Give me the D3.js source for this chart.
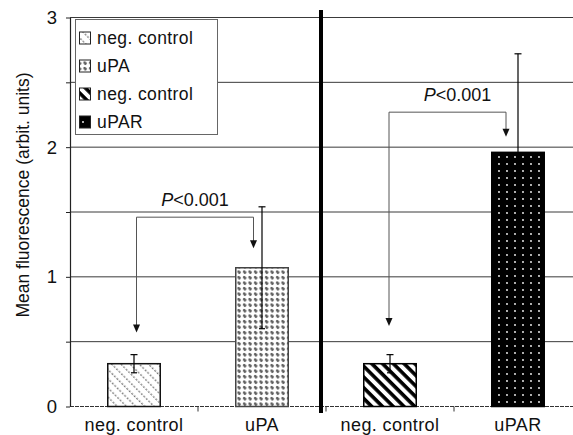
<!DOCTYPE html>
<html>
<head>
<meta charset="utf-8">
<script src="https://cdn.jsdelivr.net/npm/d3@7"></script>
<style>
  body { margin: 0; background: #fff; }
  svg { display: block; font-family: "Liberation Sans", Arial, sans-serif; }
</style>
</head>
<body>
<script>
// data
const categories = ["neg. control", "uPA", "neg. control", "uPAR"];
const means = [0.33, 1.07, 0.33, 1.96];
const errors = [0.07, 0.47, 0.07, 0.76];
const legendLabels = ["neg. control", "uPA", "neg. control", "uPAR"];
const yTicks = [0, 0.5, 1, 1.5, 2, 2.5, 3];
const pLabel = "<0.001";
// significance brackets: bar index pairs, bracket level, arrow tip levels
const bracketPairs = [[0, 1], [2, 3]];
const bracketLevels = [1.46, 2.27];
const bracketTips = [[0.57, 1.22], [0.62, 2.08]];

const W = 573, H = 435;
const svg = d3.select("body").append("svg").attr("width", W).attr("height", H);

const x = d3.scaleBand()
    .domain(d3.range(categories.length))
    .range([70, 582])
    .paddingInner(0.59)
    .paddingOuter(0.295);
const y = d3.scaleLinear().domain([0, 3]).range([406.5, 17.5]);
const bw = x.bandwidth();
const step = x.step();

// fill patterns
const defs = svg.append("defs");

const p0 = defs.append("pattern").attr("id", "pat0")
    .attr("patternUnits", "userSpaceOnUse").attr("width", 7).attr("height", 6.5)
    .attr("patternTransform", "rotate(45)");
p0.append("rect").attr("width", 7).attr("height", 6.5).attr("fill", "#fff");
p0.append("line").attr("x1", 0).attr("x2", 7).attr("y1", 3).attr("y2", 3)
    .attr("stroke", "#777").attr("stroke-width", 1.4).attr("stroke-dasharray", "1.8,1.7");

const p1 = defs.append("pattern").attr("id", "pat1")
    .attr("patternUnits", "userSpaceOnUse").attr("width", 5.5).attr("height", 5.5);
p1.append("rect").attr("width", 5.5).attr("height", 5.5).attr("fill", "#fff");
p1.append("path").attr("d", "M0.8,2.7h3.6M2.6,0.9v3.6M1.3,1.3l2.6,2.6")
    .attr("stroke", "#555").attr("stroke-width", 1.1).attr("fill", "none");

const p2 = defs.append("pattern").attr("id", "pat2")
    .attr("patternUnits", "userSpaceOnUse").attr("width", 10).attr("height", 7.6)
    .attr("patternTransform", "rotate(45)");
p2.append("rect").attr("width", 10).attr("height", 7.6).attr("fill", "#fff");
p2.append("rect").attr("width", 10).attr("height", 3.6).attr("fill", "#000");

const p3 = defs.append("pattern").attr("id", "pat3")
    .attr("patternUnits", "userSpaceOnUse").attr("width", 8).attr("height", 7);
p3.append("rect").attr("width", 8).attr("height", 7).attr("fill", "#000");
p3.append("circle").attr("cx", 3).attr("cy", 3).attr("r", 0.9).attr("fill", "#fff");

const fills = ["url(#pat0)", "url(#pat1)", "url(#pat2)", "url(#pat3)"];
const borders = ["#111", "#444", "#000", "#000"];

// horizontal grid lines
svg.append("g").selectAll("line")
    .data(yTicks.filter(d => d > 0))
    .join("line")
    .attr("x1", 70).attr("x2", W)
    .attr("y1", d => y(d)).attr("y2", d => y(d))
    .attr("stroke", "#3a3a3a")
    .attr("stroke-width", 1);

// baseline
svg.append("line")
    .attr("x1", 70).attr("x2", W)
    .attr("y1", y(0)).attr("y2", y(0))
    .attr("stroke", "#333").attr("stroke-width", 1)
    .attr("stroke-dasharray", "4,1");

// bars
svg.append("g").selectAll("rect")
    .data(means)
    .join("rect")
    .attr("x", (d, i) => x(i))
    .attr("y", d => y(d))
    .attr("width", bw)
    .attr("height", d => y(0) - y(d))
    .attr("fill", (d, i) => fills[i])
    .attr("stroke", (d, i) => borders[i])
    .attr("stroke-width", 1.5);

// error bars
const eb = svg.append("g").attr("stroke", "#000").attr("stroke-width", 1.2);
means.forEach((m, i) => {
    const cx = x(i) + bw / 2;
    eb.append("line").attr("x1", cx).attr("x2", cx)
        .attr("y1", y(m - errors[i])).attr("y2", y(m + errors[i]));
    eb.append("line").attr("x1", cx - 3.5).attr("x2", cx + 3.5)
        .attr("y1", y(m + errors[i])).attr("y2", y(m + errors[i]));
    eb.append("line").attr("x1", cx - 3).attr("x2", cx + 3)
        .attr("y1", y(m - errors[i])).attr("y2", y(m - errors[i]));
});

// significance brackets
const legOffsets = [[2.5, -8.5], [-1, -12]];
const textShift = [0, 10];
const br = svg.append("g");
bracketPairs.forEach((pair, k) => {
    const xa = x(pair[0]) + bw / 2 + legOffsets[k][0];
    const xb = x(pair[1]) + bw / 2 + legOffsets[k][1];
    const yl = y(bracketLevels[k]);
    const ya = y(bracketTips[k][0]);
    const yb = y(bracketTips[k][1]);
    br.append("path")
        .attr("d", `M${xa},${ya - 7}V${yl}H${xb}V${yb - 7}`)
        .attr("fill", "none").attr("stroke", "#555").attr("stroke-width", 1);
    [[xa, ya], [xb, yb]].forEach(([tx, ty]) => {
        br.append("path")
            .attr("d", `M${tx - 3.5},${ty - 8}L${tx + 3.5},${ty - 8}L${tx},${ty}Z`)
            .attr("fill", "#111");
    });
    const t = br.append("text")
        .attr("x", (xa + xb) / 2 + textShift[k])
        .attr("y", yl - 11)
        .attr("text-anchor", "middle")
        .attr("font-size", 18)
        .attr("fill", "#111");
    t.append("tspan").attr("font-style", "italic").text("P");
    t.append("tspan").text(pLabel);
});

// y axis
const yAxis = svg.append("g")
    .attr("transform", "translate(70,0)")
    .call(d3.axisLeft(y)
        .tickValues(yTicks)
        .tickSize(4)
        .tickSizeOuter(0)
        .tickPadding(9)
        .tickFormat(d => Number.isInteger(d) ? d : ""));
yAxis.select(".domain").attr("stroke", "#222").attr("stroke-width", 1.2);
yAxis.selectAll(".tick line").attr("stroke", "#222");
yAxis.selectAll("text").attr("font-size", 18.5).attr("fill", "#111")
    .attr("font-family", "Liberation Sans, Arial, sans-serif");

// x axis labels and boundary ticks
const xAxis = svg.append("g")
    .attr("transform", `translate(0,${y(0)})`)
    .call(d3.axisBottom(x).tickSize(0).tickPadding(12).tickFormat(i => categories[i]));
xAxis.select(".domain").remove();
xAxis.selectAll("text").attr("font-size", 18).attr("fill", "#111")
    .attr("letter-spacing", 0.4)
    .attr("font-family", "Liberation Sans, Arial, sans-serif");

svg.append("g").selectAll("line")
    .data(d3.range(categories.length - 1))
    .join("line")
    .attr("x1", i => x(i) + bw + (step - bw) / 2)
    .attr("x2", i => x(i) + bw + (step - bw) / 2)
    .attr("y1", y(0)).attr("y2", y(0) + 5)
    .attr("stroke", "#333");

// thick divider between the two experiments
const divX = x(1) + bw + (step - bw) / 2 - 5;
svg.append("line")
    .attr("x1", divX).attr("x2", divX)
    .attr("y1", 10).attr("y2", 413)
    .attr("stroke", "#000").attr("stroke-width", 4);

// y axis title
svg.append("text")
    .attr("transform", "translate(29,195) rotate(-90)")
    .attr("text-anchor", "middle")
    .attr("font-size", 17.5)
    .attr("fill", "#111")
    .text("Mean fluorescence (arbit. units)");

// legend
const legend = svg.append("g");
legend.append("rect")
    .attr("x", 75.5).attr("y", 19.5)
    .attr("width", 142).attr("height", 115)
    .attr("fill", "#fff").attr("stroke", "#666").attr("stroke-width", 1);
legendLabels.forEach((lab, i) => {
    const base = 44 + i * 28;
    legend.append("rect")
        .attr("x", 79.5).attr("y", base - 12)
        .attr("width", 11).attr("height", 12)
        .attr("fill", fills[i]).attr("stroke", "#222").attr("stroke-width", 1);
    legend.append("text")
        .attr("x", 97).attr("y", base)
        .attr("font-size", 17.5)
        .attr("letter-spacing", 0.4)
        .attr("fill", "#111")
        .text(lab);
});
</script>
</body>
</html>
